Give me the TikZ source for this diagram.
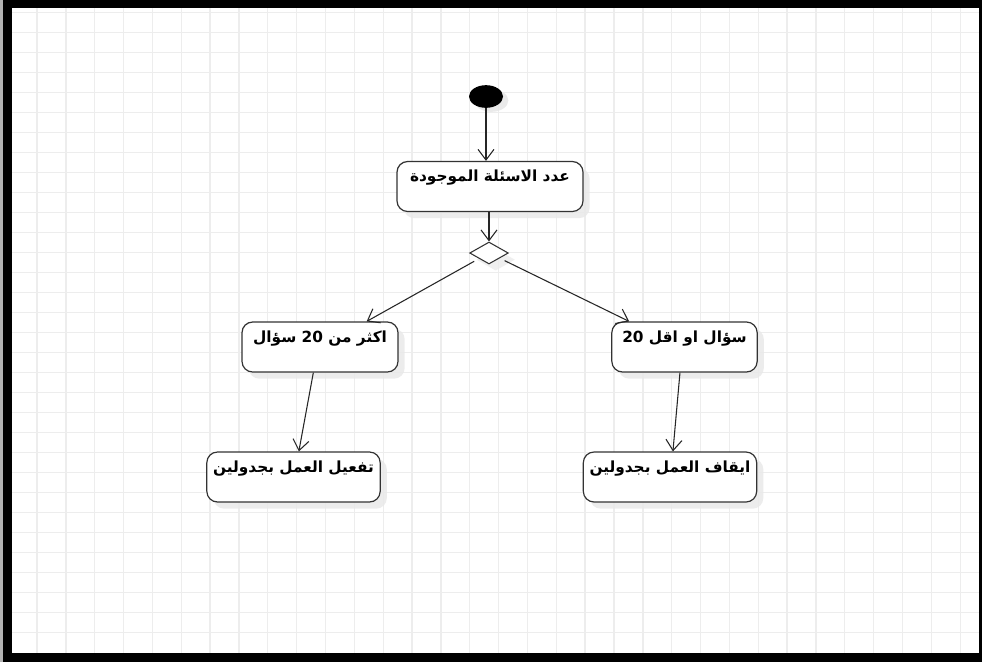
\documentclass[tikz,border=0pt]{standalone}
\usepackage{fontspec}
\newfontfamily\arabicfont[Script=Arabic]{DejaVu Sans}
\TeXXeTstate=1
\usetikzlibrary{shapes.geometric,arrows.meta,shadows}

\tikzset{
  gridline/.style={draw=black!7, line width=1pt},
  activity/.style={draw=black!80, line width=0.9pt, fill=white,
    rounded corners=8pt, minimum height=37.5pt, inner sep=2pt,
    text height=6pt, text depth=13.5pt,
    font=\arabicfont\bfseries\fontsize{11.5}{12}\selectfont,
    drop shadow={shadow xshift=5pt, shadow yshift=-5pt, fill=black!9, opacity=0.8}},
  initial/.style={ellipse, fill=black, minimum width=25.5pt, minimum height=17pt,
    inner sep=0pt, drop shadow={shadow xshift=4pt, shadow yshift=-3pt, fill=black!10, opacity=0.8}},
  decision/.style={diamond, draw=black!80, line width=0.8pt, fill=white,
    minimum width=29pt, minimum height=16.5pt, inner sep=0pt,
    drop shadow={shadow xshift=5pt, shadow yshift=-5pt, fill=black!8, opacity=0.8}},
  flow/.style={draw=black!85, line width=0.8pt, -{Straight Barb[length=8pt,width=12pt,line width=0.8pt]}}
}

\begin{document}
\begin{tikzpicture}[x=0.75pt,y=-0.75pt]
  \useasboundingbox (0,0) rectangle (982,662);
  % Frame and sheet
  \fill[black!30] (0,0) rectangle (3,662);
  \fill[black] (3,0) rectangle (982,662);
  \fill[white] (12,8) rectangle (979,653);
  \foreach \gx in {0,...,32}
    \draw[gridline] ({37+28.85*\gx},8) -- ({37+28.85*\gx},653);
  \foreach \gy in {0,...,31}
    \draw[gridline] (12,{12.3+20*\gy}) -- (979,{12.3+20*\gy});

  % Nodes
  \node[initial] (start) at (486,96.5) {};
  \node[activity, minimum width=139.5pt] (count) at (490,186.5)
    {\beginR عدد الاسئلة الموجودة\endR};
  \node[decision] (choice) at (489,253) {};
  \node[activity, minimum width=117pt] (more) at (320,347)
    {\beginR اكثر من \beginL 20\endL{} سؤال\endR};
  \node[activity, minimum width=109pt] (less) at (684.5,347)
    {\beginR سؤال او اقل \beginL 20\endL{}\endR};
  \node[activity, minimum width=130pt] (enable) at (293.5,477)
    {\beginR تفعيل العمل بجدولين\endR};
  \node[activity, minimum width=130pt] (stop) at (670,477)
    {\beginR ايقاف العمل بجدولين\endR};

  % Edges
  \path[flow] (start) -- (start |- count.north);
  \path[flow] (count.south -| choice.north) -- (choice.north);
  \path[flow, shorten <=4pt] (choice) -- ([xshift=35pt]more.north);
  \path[flow, shorten <=4pt] (choice) -- ([xshift=-41.5pt]less.north);
  \path[flow] ([xshift=-5pt]more.south) -- ([xshift=4pt]enable.north);
  \path[flow] ([xshift=-3.4pt]less.south) -- ([xshift=2.2pt]stop.north);
\end{tikzpicture}
\end{document}
